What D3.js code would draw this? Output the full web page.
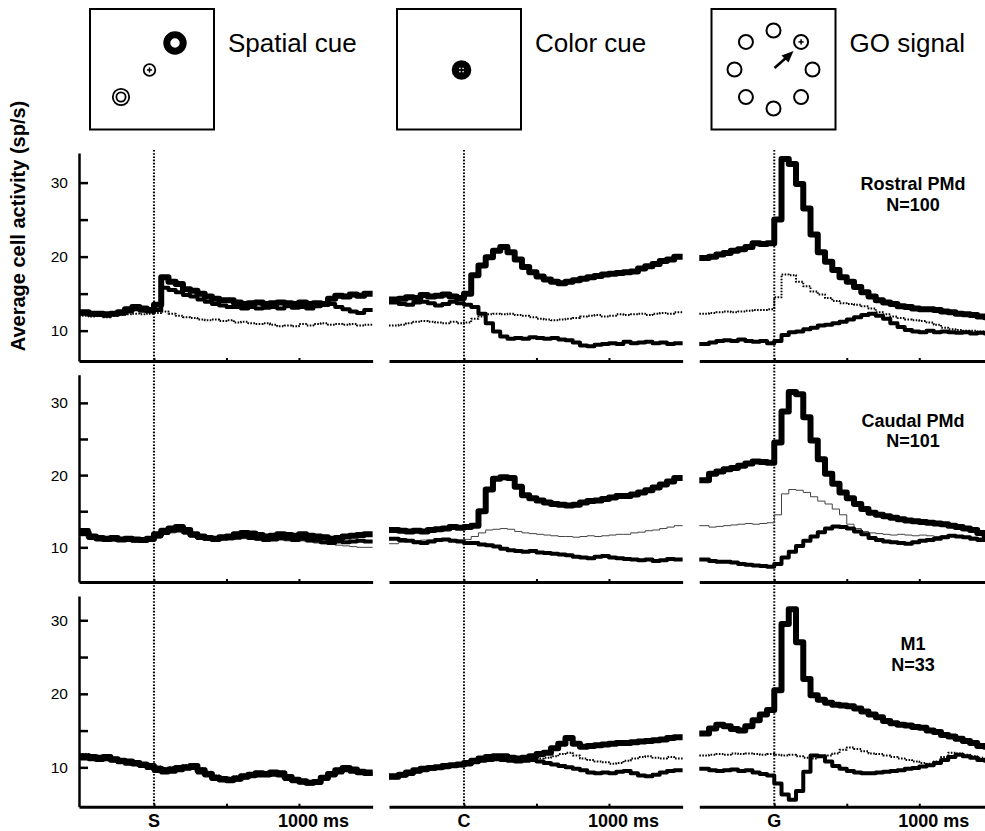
<!DOCTYPE html>
<html>
<head>
<meta charset="utf-8">
<title>Average cell activity</title>
<style>
body { margin: 0; background: #fff; }
text { font-family: "Liberation Sans", Arial, sans-serif; fill: #000; }
</style>
</head>
<body>
<div id="chart"></div>
<script src="https://cdn.jsdelivr.net/npm/d3@7"></script>
<script>
// columns = task epochs, rows = cortical areas
const epochs = ["S", "C", "G"];
const cueNames = ["Spatial cue", "Color cue", "GO signal"];
const areas = ["Rostral PMd", "Caudal PMd", "M1"];
const areaCounts = ["N=100", "N=101", "N=33"];
const yTicks = [10, 15, 20, 25, 30];
const yTickLabels = ["10", "", "20", "", "30"];
const xTicks = [0, 500, 1000];
const xUnitLabel = "1000 ms";
// firing rates in 50 ms bins, first bin starts 500 ms before the event
const binStartMs = -500, binMs = 50;

// ---- Rostral PMd (sp/s) ----
const rostralS_pref = [12.5,12.3,12.3,12.2,12.3,12.5,12.9,13.2,13.0,12.8,13.5,17.2,16.6,16.3,15.6,15.4,15.0,14.6,14.3,14.1,14.1,13.8,13.6,13.7,13.8,13.6,13.7,13.8,13.7,13.6,13.8,13.6,13.7,13.6,14.3,14.7,14.6,14.9,14.7,15.0];
const rostralS_anti = [12.3,12.2,12.1,12.0,12.2,12.3,12.6,12.9,12.7,12.6,12.8,15.8,15.5,15.2,14.8,14.6,14.2,13.9,13.6,13.4,13.2,13.2,13.0,13.2,13.0,13.1,13.2,13.0,13.3,13.1,13.2,13.0,13.3,13.5,13.6,13.2,12.9,12.6,12.4,12.8];
const rostralS_other = [12.0,11.9,12.0,11.8,12.0,12.1,12.2,12.3,12.2,12.3,12.4,12.6,12.3,12.0,11.8,11.7,11.5,11.4,11.5,11.3,11.4,11.1,11.2,11.0,10.9,11.0,10.8,10.6,10.7,10.6,10.9,10.7,10.9,11.0,10.8,10.9,10.8,10.9,10.7,10.8];

const rostralC_pref = [14.2,14.3,14.5,14.4,14.8,14.6,14.7,14.9,14.6,14.4,15.0,17.5,18.8,19.9,20.8,21.3,20.6,19.6,18.6,17.9,17.3,16.9,16.6,16.4,16.6,16.8,17.0,17.2,17.4,17.6,17.7,17.8,17.9,18.0,18.4,18.7,19.0,19.4,19.6,20.0];
const rostralC_anti = [13.8,13.6,13.5,13.8,13.9,13.7,13.4,13.6,13.9,13.7,13.5,13.2,12.3,11.0,9.9,9.2,8.9,9.0,8.9,9.1,9.0,8.9,9.0,8.8,8.7,8.4,8.0,7.9,8.1,8.2,8.3,8.2,8.5,8.3,8.4,8.5,8.3,8.4,8.2,8.3];
const rostralC_other = [10.7,10.8,11.0,11.2,11.3,11.2,11.1,11.0,11.2,11.0,11.1,11.6,11.9,12.2,12.3,12.2,12.3,12.1,12.0,11.8,11.6,11.5,11.4,11.5,11.6,11.7,11.9,12.0,12.1,11.9,12.0,12.2,12.1,12.2,12.3,12.1,12.3,12.4,12.3,12.5];

const rostralG_pref = [19.8,20.0,20.3,20.5,20.8,21.0,21.3,21.8,21.7,21.8,25.0,33.2,32.5,29.8,26.5,23.0,20.6,19.3,18.2,17.2,16.6,15.9,15.2,14.6,14.1,13.8,13.6,13.3,13.2,13.0,12.9,12.9,12.8,12.6,12.5,12.3,12.2,12.1,11.9,11.8];
const rostralG_anti = [8.2,8.4,8.6,8.7,8.6,8.8,8.6,8.5,8.6,8.3,8.6,9.4,9.8,9.9,10.2,10.4,10.7,10.8,11.0,11.2,11.5,11.8,12.1,12.3,12.0,11.6,11.0,10.5,10.1,9.9,9.8,10.0,9.8,9.9,9.8,9.7,9.8,9.6,9.7,9.6];
const rostralG_other = [12.3,12.4,12.5,12.6,12.5,12.6,12.7,12.8,12.8,12.9,14.5,17.6,17.5,16.6,16.0,15.3,14.9,14.4,14.0,13.7,13.6,13.5,13.3,13.0,12.5,12.2,11.9,11.7,11.5,11.4,11.3,11.1,10.8,10.4,10.2,10.1,10.0,10.0,9.9,9.8];

// ---- Caudal PMd (sp/s) ----
const caudalS_pref = [12.0,11.5,11.3,11.2,11.3,11.1,11.2,11.1,11.0,11.2,11.8,12.3,12.6,12.8,12.4,11.8,11.5,11.3,11.2,11.4,11.5,11.8,12.0,11.9,11.7,11.5,11.6,11.8,11.7,11.6,11.8,11.6,11.5,11.4,11.2,11.3,11.5,11.6,11.7,11.8];
const caudalS_anti = [12.4,11.3,11.1,11.0,11.1,11.0,11.0,10.9,10.9,11.0,11.5,12.0,12.3,12.4,12.1,11.6,11.3,11.2,11.0,11.2,11.3,11.4,11.5,11.3,11.2,11.0,11.1,11.3,11.2,11.0,11.2,11.0,10.9,10.7,10.6,10.8,10.7,10.8,10.9,10.8];
const caudalS_other = [11.6,11.2,11.0,11.0,10.9,11.0,10.9,10.8,10.9,10.9,11.3,11.8,12.0,12.1,11.8,11.5,11.2,11.1,11.0,11.1,11.0,11.1,11.2,11.1,11.0,10.9,11.0,11.0,10.9,10.8,10.9,10.7,10.6,10.5,10.4,10.3,10.2,10.1,10.0,10.0];

const caudalC_pref = [12.4,12.3,12.2,12.3,12.2,12.4,12.5,12.6,12.8,12.7,12.8,13.0,15.0,18.0,19.5,19.7,19.6,18.4,17.2,16.8,16.5,16.2,16.0,15.9,15.8,15.9,16.2,16.4,16.5,16.7,16.9,17.1,17.1,17.3,17.6,17.9,18.3,18.7,19.1,19.6];
const caudalC_anti = [11.2,11.0,10.9,10.7,10.6,10.8,11.0,11.1,10.9,10.8,10.6,10.6,10.4,10.3,10.1,9.8,9.6,9.5,9.4,9.5,9.3,9.2,9.1,9.0,8.9,8.7,8.6,8.5,8.7,8.8,8.6,8.5,8.4,8.3,8.2,8.3,8.1,8.2,8.4,8.3];
const caudalC_other = [10.5,10.7,10.8,10.9,11.0,11.0,11.1,11.0,11.1,11.0,11.1,11.5,12.0,12.4,12.5,12.6,12.5,12.2,12.0,11.9,11.8,11.7,11.6,11.5,11.5,11.4,11.5,11.6,11.5,11.6,11.7,11.8,11.8,12.0,12.1,12.3,12.4,12.6,12.8,13.0];

const caudalG_pref = [19.3,20.2,20.5,20.8,21.0,21.3,21.6,21.9,21.8,21.7,24.5,28.8,31.5,31.2,28.0,24.8,22.2,20.2,18.8,17.6,16.8,16.0,15.3,14.8,14.5,14.3,14.1,13.9,13.7,13.6,13.5,13.4,13.3,13.2,13.0,12.8,12.6,12.4,12.0,11.6];
const caudalG_anti = [8.3,8.1,8.0,8.0,7.9,7.7,7.6,7.5,7.4,7.3,7.7,8.6,9.4,10.2,10.9,11.5,12.1,12.6,12.9,12.8,12.6,12.2,11.8,11.3,11.0,10.8,10.7,10.6,10.5,10.7,10.9,11.0,11.2,11.4,11.6,11.5,11.4,11.2,11.0,11.1];
const caudalG_other = [13.0,12.8,12.9,13.0,13.1,13.2,13.3,13.2,13.3,13.4,14.5,17.4,18.0,17.9,17.6,17.0,16.4,16.0,15.3,14.5,13.2,12.6,12.2,12.0,11.9,11.8,11.7,11.8,11.7,11.6,11.7,11.6,11.5,11.6,11.5,11.4,11.5,11.4,11.3,11.3];

// ---- M1 (sp/s) ----
const m1S_pref = [11.5,11.4,11.3,11.4,11.1,10.9,10.8,10.6,10.4,10.2,9.8,9.6,9.7,9.9,10.0,10.2,9.6,9.1,8.6,8.4,8.3,8.5,8.8,9.0,9.2,9.1,9.3,9.2,8.7,8.3,8.1,7.9,8.0,8.6,9.1,9.6,9.9,9.7,9.4,9.3];
const m1S_anti = [11.2,11.1,11.0,11.1,10.9,10.7,10.5,10.4,10.2,9.9,9.5,9.3,9.4,9.6,9.8,9.9,9.3,8.9,8.4,8.2,8.1,8.3,8.6,8.8,8.9,8.9,9.0,8.9,8.4,8.1,7.9,7.8,7.9,8.4,8.9,9.3,9.6,9.4,9.2,9.1];
const m1S_other = [11.8,11.6,11.5,11.5,11.3,11.1,11.0,10.8,10.6,10.4,10.1,9.9,10.0,10.2,10.3,10.4,9.9,9.4,8.9,8.7,8.6,8.8,9.0,9.2,9.4,9.3,9.5,9.4,8.9,8.5,8.3,8.1,8.2,8.8,9.3,9.8,10.1,9.9,9.6,9.5];

const m1C_pref = [8.8,9.0,9.3,9.6,9.8,9.9,10.0,10.2,10.3,10.4,10.6,10.9,11.2,11.4,11.5,11.5,11.3,11.2,11.3,11.5,11.8,12.0,12.6,13.2,14.0,13.2,12.8,12.9,13.0,13.1,13.2,13.3,13.3,13.4,13.5,13.6,13.7,13.8,14.0,14.1];
const m1C_anti = [8.6,8.9,9.1,9.4,9.6,9.8,9.9,10.0,10.2,10.3,10.4,10.7,10.9,11.0,11.1,11.0,10.9,10.8,10.9,11.0,10.8,10.6,10.4,10.2,10.0,9.8,9.6,9.3,9.2,9.3,9.2,9.4,9.5,9.2,8.9,8.8,9.0,9.3,9.5,9.6];
const m1C_other = [9.0,9.2,9.5,9.7,9.9,10.0,10.1,10.2,10.3,10.2,10.5,10.8,11.0,11.2,11.3,11.2,11.0,10.9,11.0,11.1,11.2,11.3,11.5,11.8,12.0,11.6,11.2,11.0,10.8,10.7,10.5,10.6,10.9,11.2,11.4,11.5,11.3,11.2,11.4,11.2];

const m1G_pref = [14.6,15.3,15.8,15.6,15.2,15.0,15.6,16.4,17.2,17.8,20.5,29.5,31.5,27.0,22.0,19.8,19.2,18.8,18.5,18.4,18.3,18.0,17.6,17.2,16.8,16.3,16.0,15.8,15.7,15.5,15.4,15.0,14.8,14.4,14.2,13.9,13.6,13.3,12.9,12.8];
const m1G_anti = [9.8,9.6,9.5,9.6,9.7,9.5,9.6,9.3,9.1,8.9,7.8,6.3,5.6,6.8,9.4,11.6,11.5,10.8,10.2,9.8,9.5,9.3,9.2,9.2,9.3,9.4,9.5,9.6,9.8,9.9,10.1,10.3,10.6,11.0,11.4,11.7,11.5,11.3,11.0,10.9];
const m1G_other = [11.6,11.7,11.8,11.7,11.9,11.8,11.9,11.8,11.7,11.8,11.7,11.6,11.7,11.5,11.3,11.2,11.4,11.6,11.9,12.4,12.7,12.5,12.2,11.9,11.8,11.6,11.4,11.2,11.0,10.8,10.6,10.5,10.8,11.4,12.0,11.9,11.7,11.5,11.3,11.2];

const panelData = [
  [[rostralS_pref, rostralS_anti, rostralS_other], [rostralC_pref, rostralC_anti, rostralC_other], [rostralG_pref, rostralG_anti, rostralG_other]],
  [[caudalS_pref, caudalS_anti, caudalS_other], [caudalC_pref, caudalC_anti, caudalC_other], [caudalG_pref, caudalG_anti, caudalG_other]],
  [[m1S_pref, m1S_anti, m1S_other], [m1C_pref, m1C_anti, m1C_other], [m1G_pref, m1G_anti, m1G_other]]
];

// ---------- layout ----------
const W = 985, H = 831;
const xDomain = [-517, 1508];
const pxPerMs = 0.145;
const colLeft = [79, 389, 699.3];
const rows = [
  {domain: [5.9, 34], range: [361, 153], labelY: 190},
  {domain: [5.2, 33.9], range: [582, 374.7], labelY: 426.7},
  {domain: [4.65, 33.3], range: [806.7, 596], labelY: 650}
];

const svg = d3.select("#chart").append("svg")
    .attr("width", W).attr("height", H);

// ---------- header icons ----------
const boxX = [90, 397, 711.5];
boxX.forEach(function(bx, i) {
  svg.append("rect").attr("x", bx).attr("y", 9).attr("width", 124).attr("height", 120.5)
     .attr("fill", "none").attr("stroke", "#000").attr("stroke-width", 2);
  svg.append("text").attr("x", bx + 138).attr("y", 52)
     .attr("font-size", 26).text(cueNames[i]);
});

function plus(g, cx, cy, s, color, w) {
  g.append("line").attr("x1", cx - s).attr("x2", cx + s).attr("y1", cy).attr("y2", cy)
   .attr("stroke", color).attr("stroke-width", w);
  g.append("line").attr("x1", cx).attr("x2", cx).attr("y1", cy - s).attr("y2", cy + s)
   .attr("stroke", color).attr("stroke-width", w);
}

const icons = svg.append("g");
// spatial cue
icons.append("circle").attr("cx", 175).attr("cy", 43).attr("r", 8.2)
     .attr("fill", "none").attr("stroke", "#000").attr("stroke-width", 7);
icons.append("circle").attr("cx", 149.5).attr("cy", 70).attr("r", 5.8)
     .attr("fill", "none").attr("stroke", "#000").attr("stroke-width", 1.8);
plus(icons, 149.5, 70, 2.6, "#000", 1.5);
icons.append("circle").attr("cx", 121).attr("cy", 97).attr("r", 8.2)
     .attr("fill", "none").attr("stroke", "#000").attr("stroke-width", 1.8);
icons.append("circle").attr("cx", 121).attr("cy", 97).attr("r", 4.6)
     .attr("fill", "none").attr("stroke", "#000").attr("stroke-width", 1.8);
// color cue
icons.append("circle").attr("cx", 461.5).attr("cy", 70).attr("r", 9.8).attr("fill", "#000");
[[-1.6, -1.6], [1.6, -1.6], [-1.6, 1.6], [1.6, 1.6]].forEach(function(o) {
  icons.append("rect").attr("x", 461.5 + o[0] - 0.7).attr("y", 70 + o[1] - 0.7)
       .attr("width", 1.4).attr("height", 1.4).attr("fill", "#fff");
});
// go signal
const goCx = 773.5, goCy = 69.5, goR = 39;
for (let k = 0; k < 8; k++) {
  const a = -Math.PI / 2 + k * Math.PI / 4;
  icons.append("circle").attr("cx", goCx + goR * Math.cos(a)).attr("cy", goCy + goR * Math.sin(a))
       .attr("r", 7).attr("fill", "none").attr("stroke", "#000").attr("stroke-width", 2);
}
plus(icons, goCx + goR * Math.cos(-Math.PI / 4), goCy + goR * Math.sin(-Math.PI / 4), 2.6, "#000", 1.5);
icons.append("line").attr("x1", 774.5).attr("y1", 68).attr("x2", 787).attr("y2", 57)
     .attr("stroke", "#000").attr("stroke-width", 2.5);
icons.append("path").attr("d", "M793.5,51 L781.5,55.5 L788.5,62.5 Z").attr("fill", "#000");

// ---------- panels ----------
function stepPoints(vals) {
  const pts = vals.map(function(v, i) {
    return [i === 0 ? xDomain[0] : binStartMs + i * binMs, v];
  });
  pts.push([xDomain[1], vals[vals.length - 1]]);
  return pts;
}

const traceStyle = [
  function(p, r) { p.attr("stroke-width", 6); },
  function(p, r) { p.attr("stroke-width", 4); },
  function(p, r) {
    if (r === 1) p.attr("stroke-width", 1).attr("stroke", "#444");
    else p.attr("stroke-width", 2).attr("stroke-dasharray", "1.6,1.4");
  }
];

svg.append("defs").append("clipPath").attr("id", "page")
   .append("rect").attr("x", 0).attr("y", 0).attr("width", W).attr("height", H);

rows.forEach(function(row, r) {
  const y = d3.scaleLinear().domain(row.domain).range(row.range);
  colLeft.forEach(function(left, c) {
    const x = d3.scaleLinear().domain(xDomain)
        .range([left, left + (xDomain[1] - xDomain[0]) * pxPerMs]);
    const g = svg.append("g").attr("clip-path", "url(#page)");

    // x axis
    const xa = g.append("g").attr("transform", "translate(0," + row.range[0] + ")")
        .call(d3.axisBottom(x).tickValues(xTicks).tickSizeInner(-3).tickSizeOuter(0).tickFormat(""));
    xa.select(".domain").attr("stroke-width", 3);
    xa.selectAll(".tick line").attr("stroke-width", 2);

    // y axis only in first column
    if (c === 0) {
      const ya = g.append("g").attr("transform", "translate(" + left + ",0)")
          .call(d3.axisLeft(y).tickValues(yTicks).tickSizeInner(-9).tickSizeOuter(0)
                .tickPadding(11).tickFormat(function(d, i) { return yTickLabels[i]; }));
      ya.select(".domain").attr("stroke-width", 2.5);
      ya.selectAll(".tick line").attr("stroke-width", 2.5);
      ya.selectAll(".tick text").attr("font-size", 15.5)
        .attr("font-family", "'Liberation Sans', Arial, sans-serif");
    }

    const line = d3.line().x(function(d) { return x(d[0]); }).y(function(d) { return y(d[1]); })
        .curve(d3.curveStepAfter);
    const series = panelData[r][c];
    [2, 1, 0].forEach(function(k) {
      const p = g.append("path").datum(stepPoints(series[k])).attr("d", line)
          .attr("fill", "none").attr("stroke", "#000").attr("stroke-linejoin", "round");
      traceStyle[k](p, r);
    });

    if (r === rows.length - 1) {
      g.append("text").attr("x", x(0)).attr("y", 827).attr("text-anchor", "middle")
       .attr("font-size", 18).attr("font-weight", "bold").text(epochs[c]);
      g.append("text").attr("x", x(1000) - 21).attr("y", 827)
       .attr("font-size", 18).attr("font-weight", "bold").text(xUnitLabel);
    }
    if (r === 0) {
      // event marker through all rows
      svg.append("line").attr("x1", x(0)).attr("x2", x(0)).attr("y1", 150).attr("y2", 808)
         .attr("stroke", "#000").attr("stroke-width", 2).attr("stroke-dasharray", "1.6,1.6");
    }
  });
  svg.append("text").attr("x", 913).attr("y", row.labelY).attr("text-anchor", "middle")
     .attr("font-size", 18).attr("font-weight", "bold").text(areas[r]);
  svg.append("text").attr("x", 913).attr("y", row.labelY + 20.7).attr("text-anchor", "middle")
     .attr("font-size", 18).attr("font-weight", "bold").text(areaCounts[r]);
});

// y axis title
svg.append("text").attr("transform", "translate(25,226) rotate(-90)")
   .attr("text-anchor", "middle").attr("font-size", 20).attr("font-weight", "bold")
   .text("Average cell activity (sp/s)");
</script>
</body>
</html>
